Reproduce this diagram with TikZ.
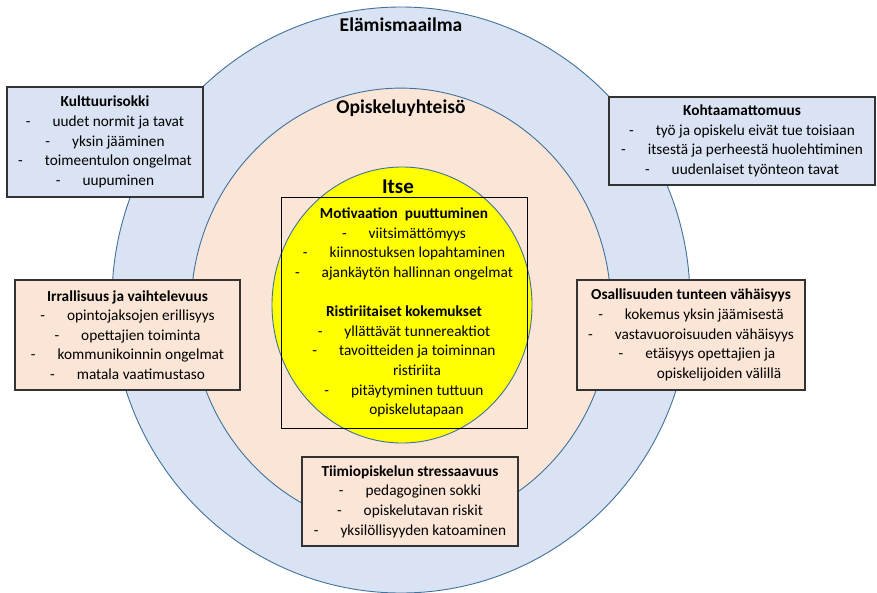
\documentclass[tikz,border=0pt]{standalone}
\usepackage{fontspec}
\setmainfont{Carlito}
\usetikzlibrary{shapes.geometric}
\definecolor{ringblue}{HTML}{DAE3F3}
\definecolor{ringpeach}{HTML}{FBE5D6}
\definecolor{coreyellow}{HTML}{FFFF00}
\definecolor{ringline}{HTML}{41719C}
% list line: dash, gap, text
\newcommand{\li}[1]{-\hspace{22pt}#1}
% continuation line of a list item
\newcommand{\cont}[2]{\hspace*{#1}#2}
\begin{document}
\begin{tikzpicture}[x=1pt,y=-1pt,
  ring/.style={ellipse, draw=ringline, line width=0.9pt, inner sep=0pt},
  boxtext/.style={font=\fontsize{15.3}{19.6}\selectfont, align=center},
  topicbox/.style={rectangle, draw=black!80, line width=1.1pt, inner sep=0pt, boxtext},
  ringtitle/.style={font=\fontsize{19.5}{22}\selectfont\bfseries}]
\useasboundingbox (0,0) rectangle (877,592);
\clip (0,0) rectangle (877,592);

% nested spheres of experience
\node[ring, fill=ringblue, minimum width=578pt, minimum height=586pt] (world) at (401,300) {};
\node[ring, fill=ringpeach, minimum width=420pt, minimum height=441pt] (community) at (401,308.6) {};
\node[ring, fill=coreyellow, minimum width=260pt, minimum height=276pt] (self) at (402,305) {};

\node[ringtitle] (worldlabel) at (401,25) {Elämismaailma};
\node[ringtitle] (communitylabel) at (401,108) {Opiskeluyhteisö};
\node[font=\fontsize{21}{23}\selectfont\bfseries] (selflabel) at (398,187) {Itse};

% inner frame with the personal level
\node[rectangle, draw=black, line width=0.8pt, inner sep=0pt, boxtext,
      minimum width=246pt, minimum height=231pt] (core) at (404,312.5)
  {\textbf{Motivaation\ \ puuttuminen}\\
   \li{viitsimättömyys}\\
   \li{kiinnostuksen lopahtaminen}\\
   \li{ajankäytön hallinnan ongelmat}\\[19.6pt]
   \textbf{Ristiriitaiset kokemukset}\\
   \li{yllättävät tunnereaktiot}\\
   \li{tavoitteiden ja toiminnan}\\
   \cont{26pt}{ristiriita}\\
   \li{pitäytyminen tuttuun}\\
   \cont{25pt}{opiskelutapaan}};

% life-world boxes
\node[topicbox, fill=ringblue, minimum width=196pt, minimum height=110pt] (culture) at (105,142)
  {\textbf{Kulttuurisokki}\\
   \li{uudet normit ja tavat}\\
   \li{yksin jääminen}\\
   \li{toimeentulon ongelmat}\\
   \li{uupuminen}};
\node[topicbox, fill=ringblue, minimum width=266pt, minimum height=88pt] (mismatch) at (742,141)
  {\textbf{Kohtaamattomuus}\\
   \li{työ ja opiskelu eivät tue toisiaan}\\
   \li{itsestä ja perheestä huolehtiminen}\\
   \li{uudenlaiset työnteon tavat}};

% study-community boxes
\node[topicbox, fill=ringpeach, minimum width=225pt, minimum height=110pt] (detach) at (127.5,335)
  {\textbf{Irrallisuus ja vaihtelevuus}\\
   \li{opintojaksojen erillisyys}\\
   \li{opettajien toiminta}\\
   \li{kommunikoinnin ongelmat}\\
   \li{matala vaatimustaso}};
\node[topicbox, fill=ringpeach, minimum width=228pt, minimum height=110pt] (belong) at (691,335)
  {\textbf{Osallisuuden tunteen vähäisyys}\\
   \li{kokemus yksin jäämisestä}\\
   \li{vastavuoroisuuden vähäisyys}\\
   \hspace*{12pt}\li{etäisyys opettajien ja}\\
   \cont{56pt}{opiskelijoiden välillä}};
\node[topicbox, fill=ringpeach, minimum width=216pt, minimum height=89pt] (team) at (410,501.5)
  {\textbf{Tiimiopiskelun stressaavuus}\\
   \li{pedagoginen sokki}\\
   \li{opiskelutavan riskit}\\
   \li{yksilöllisyyden katoaminen}};
\end{tikzpicture}
\end{document}
